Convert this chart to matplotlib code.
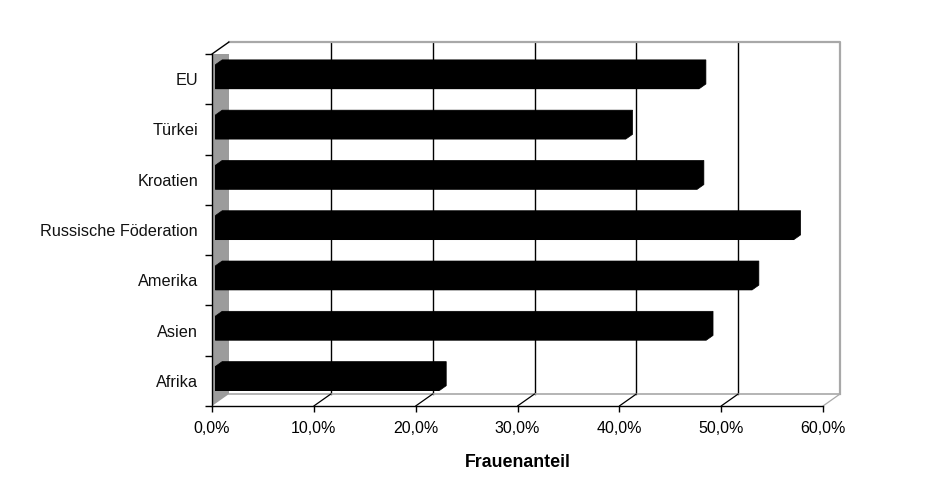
import matplotlib
matplotlib.use("Agg")
import matplotlib.pyplot as plt
from matplotlib.patches import Polygon, Rectangle, ConnectionPatch
from matplotlib.transforms import ScaledTranslation

# Women's share by region (bottom to top)
categories = ["Afrika", "Asien", "Amerika", "Russische Föderation", "Kroatien", "Türkei", "EU"]
values = [22.0, 48.2, 52.7, 56.8, 47.3, 40.3, 47.5]
x_ticks = [0, 10, 20, 30, 40, 50, 60]
x_tick_labels = ["0,0%", "10,0%", "20,0%", "30,0%", "40,0%", "50,0%", "60,0%"]
x_title = "Frauenanteil"

DPI = 100
FONT = "Liberation Sans"
WALL_GREY = "#9c9c9c"
EDGE_GREY = "#a8a8a8"
DEPTH_X, DEPTH_Y = 0.17, 0.12   # depth of the 3D box, inches
BAR_F1, BAR_F2 = 0.2, 0.6       # front / back depth fractions of the bars
BAR_HALF = 0.24

fig = plt.figure(figsize=(9.41, 4.90), dpi=DPI)
fig.patch.set_facecolor("white")
ax = fig.add_axes([212 / 941, 84 / 490, 611 / 941, 352 / 490])
ax.set_xlim(0, 60)
ax.set_ylim(-0.5, len(categories) - 0.5)
ax.patch.set_visible(False)


def depth(f):
    return ax.transData + ScaledTranslation(DEPTH_X * f, DEPTH_Y * f, fig.dpi_scale_trans)


def disp(x, y, f):
    return depth(f).transform((x, y))


y0, y1 = -0.5, len(categories) - 0.5

# back wall
ax.add_patch(Rectangle((0, y0), 60, y1 - y0, transform=depth(1), facecolor="white",
                       edgecolor="none", zorder=0, clip_on=False))
for gx in x_ticks[1:-1]:
    ax.plot([gx, gx], [y0, y1], transform=depth(1), color="black", lw=1.0,
            zorder=1, clip_on=False)
ax.plot([0, 60, 60], [y1, y1, y0], transform=depth(1), color=EDGE_GREY, lw=1.6,
        zorder=1, clip_on=False)
ax.plot([0, 60], [y0, y0], transform=depth(1), color=EDGE_GREY, lw=1.2,
        zorder=1, clip_on=False)

# floor diagonals
for gx in x_ticks[1:]:
    col = EDGE_GREY if gx == 60 else "black"
    ax.add_artist(ConnectionPatch(xyA=(gx, y0), coordsA=depth(0), xyB=(gx, y0),
                                  coordsB=depth(1), color=col, lw=0.9, zorder=1,
                                  clip_on=False))

# left side wall
wall = [disp(0, y0, 0), disp(0, y1, 0), disp(0, y1, 1), disp(0, y0, 1)]
ax.add_artist(Polygon(wall, closed=True, transform=None, facecolor=WALL_GREY,
                      edgecolor="none", zorder=2))
ax.add_artist(ConnectionPatch(xyA=(0, y1), coordsA=depth(0), xyB=(0, y1),
                              coordsB=depth(1), color="black", lw=1.0, zorder=3,
                              clip_on=False))

# bars: front face plus the extruded top and end faces
pos = list(range(len(categories)))
ax.barh(pos, values, height=2 * BAR_HALF, color="black", transform=depth(BAR_F1),
        zorder=4, clip_on=False)
for i, v in zip(pos, values):
    lo, hi = i - BAR_HALF, i + BAR_HALF
    hull = [disp(0, lo, BAR_F1), disp(0, hi, BAR_F1), disp(0, hi, BAR_F2),
            disp(v, hi, BAR_F2), disp(v, lo, BAR_F2), disp(v, lo, BAR_F1)]
    ax.add_artist(Polygon(hull, closed=True, transform=None, facecolor="black",
                          edgecolor="black", lw=0.5, zorder=4))

# axes, ticks and labels
for s in ("top", "right"):
    ax.spines[s].set_visible(False)
for s in ("left", "bottom"):
    ax.spines[s].set_color("black")
    ax.spines[s].set_linewidth(1.0)
    ax.spines[s].set_zorder(5)

ax.set_xticks(x_ticks)
ax.set_xticklabels(x_tick_labels, fontsize=11.5, family=FONT, color="#111111")
ax.tick_params(axis="x", length=4, width=1, pad=7, colors="black")

ax.set_yticks([p - 0.5 for p in pos] + [y1])
ax.set_yticklabels([])
ax.tick_params(axis="y", which="major", length=5, width=1)
ax.set_yticks(pos, minor=True)
ax.set_yticklabels(categories, minor=True, fontsize=11.7, family=FONT, color="#111111")
ax.tick_params(axis="y", which="minor", length=0, pad=10)

ax.set_xlabel(x_title, fontsize=12.8, family=FONT, fontweight="bold", labelpad=13)

fig.savefig("out.png", dpi=DPI, facecolor="white")
